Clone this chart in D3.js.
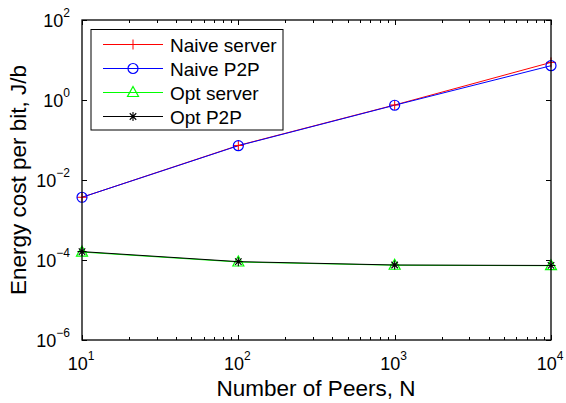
<!DOCTYPE html>
<html><head><meta charset="utf-8">
<script src="https://cdn.jsdelivr.net/npm/d3@7"></script>
<style>body{margin:0;background:#fff}svg{display:block}text{font-family:"Liberation Sans",Arial,sans-serif}</style>
</head><body><svg id="c" width="566" height="403"></svg>
<script>
const peers = [10, 100, 1000, 10000];
const naiveServer = [0.0037, 0.073, 0.75, 8.7];
const naiveP2P = [0.0037, 0.072, 0.74, 7.2];
const optServer = [1.58e-4, 8.9e-5, 7.4e-5, 7.2e-5];
const optP2P = [1.62e-4, 9.1e-5, 7.5e-5, 7.3e-5];
const xTickExp = [1, 2, 3, 4];
const yTickExp = [2, 0, -2, -4, -6];
const seriesNames = ["Naive server", "Naive P2P", "Opt server", "Opt P2P"];
const seriesColors = ["#ff0000", "#0000ff", "#00ff00", "#000000"];
const seriesMarkers = ["plus", "circle", "triangle", "star"];
const xLabel = "Number of Peers, N";
const yLabel = "Energy cost per bit, J/b";

const svg = d3.select("#c");
const L = 82, R = 551, T = 20, B = 340;
const x = d3.scaleLog().domain([10, 10000]).range([L, R]);
const y = d3.scaleLog().domain([1e-6, 100]).range([B, T]);

const minor = [];
for (let d = 10; d < 10000; d *= 10) for (let k = 2; k <= 9; k++) minor.push(d * k);
const g = svg.append("g").attr("stroke", "#000").attr("stroke-width", 1);
minor.forEach(v => {
  const xx = Math.round(x(v)) + 0.5;
  g.append("line").attr("x1", xx).attr("x2", xx).attr("y1", B).attr("y2", B - 3);
  g.append("line").attr("x1", xx).attr("x2", xx).attr("y1", T).attr("y2", T + 3);
});
xTickExp.forEach(e => {
  const xx = Math.round(x(Math.pow(10, e))) + 0.5;
  g.append("line").attr("x1", xx).attr("x2", xx).attr("y1", B).attr("y2", B - 5);
  g.append("line").attr("x1", xx).attr("x2", xx).attr("y1", T).attr("y2", T + 5);
});
yTickExp.forEach(e => {
  const yy = Math.round(y(Math.pow(10, e))) + 0.5;
  g.append("line").attr("x1", L).attr("x2", L + 5).attr("y1", yy).attr("y2", yy);
  g.append("line").attr("x1", R).attr("x2", R - 5).attr("y1", yy).attr("y2", yy);
});

xTickExp.forEach(e => {
  const t = svg.append("text").attr("x", x(Math.pow(10, e)) - 1).attr("y", 370)
    .attr("text-anchor", "middle").attr("font-size", 18);
  t.append("tspan").text("10");
  t.append("tspan").attr("dy", -10).attr("font-size", 12).text(String(e));
});
yTickExp.forEach(e => {
  const t = svg.append("text").attr("x", 70).attr("y", y(Math.pow(10, e)) + 7)
    .attr("text-anchor", "end").attr("font-size", 18);
  t.append("tspan").text("10");
  t.append("tspan").attr("dy", -10).attr("font-size", 12).text(String(e).replace("-", "\u2212"));
});

const all = [naiveServer, naiveP2P, optServer, optP2P];
const line = d3.line().x((d, i) => x(peers[i])).y(d => y(d));
function marker(sel, type, color, cx, cy) {
  if (type === "plus") {
    sel.append("path").attr("d", `M${cx-5},${cy}H${cx+5}M${cx},${cy-5}V${cy+5}`).attr("stroke", color).attr("fill", "none");
  } else if (type === "circle") {
    sel.append("circle").attr("cx", cx).attr("cy", cy).attr("r", 5).attr("stroke", color).attr("fill", "none").attr("stroke-width", 1.2);
  } else if (type === "triangle") {
    sel.append("path").attr("d", `M${cx},${cy-6}L${cx+5.5},${cy+4}L${cx-5.5},${cy+4}Z`).attr("stroke", color).attr("fill", "none").attr("stroke-width", 1.2);
  } else {
    const r = 4.5, d = r * 0.72;
    sel.append("path").attr("d", `M${cx-r},${cy}H${cx+r}M${cx},${cy-r}V${cy+r}M${cx-d},${cy-d}L${cx+d},${cy+d}M${cx-d},${cy+d}L${cx+d},${cy-d}`).attr("stroke", color).attr("fill", "none").attr("stroke-width", 1.1);
  }
}
const plot = svg.append("g");
all.forEach((s, k) => {
  plot.append("path").datum(s).attr("d", line).attr("fill", "none").attr("stroke", seriesColors[k]).attr("stroke-width", 1);
});
all.forEach((s, k) => {
  s.forEach((v, i) => marker(plot, seriesMarkers[k], seriesColors[k], x(peers[i]), y(v)));
});

svg.append("rect").attr("x", L).attr("y", T).attr("width", R - L).attr("height", B - T)
  .attr("fill", "none").attr("stroke", "#000").attr("stroke-width", 1.3);

const lg = svg.append("g");
lg.append("rect").attr("x", 91).attr("y", 29.5).attr("width", 192).attr("height", 100.5)
  .attr("fill", "#fff").attr("stroke", "#000").attr("stroke-width", 1);
seriesNames.forEach((n, i) => {
  const cy = 44.5 + i * 24;
  lg.append("line").attr("x1", 103).attr("x2", 163).attr("y1", cy).attr("y2", cy).attr("stroke", seriesColors[i]).attr("stroke-width", 1);
  marker(lg, seriesMarkers[i], seriesColors[i], 133, cy);
  lg.append("text").attr("x", 170).attr("y", cy + 7).attr("font-size", 19).text(n);
});

svg.append("text").attr("x", 316).attr("y", 396).attr("text-anchor", "middle").attr("font-size", 22.5).text(xLabel);
svg.append("text").attr("transform", "translate(26,180) rotate(-90)").attr("text-anchor", "middle").attr("font-size", 22.5).text(yLabel);
</script></body></html>
